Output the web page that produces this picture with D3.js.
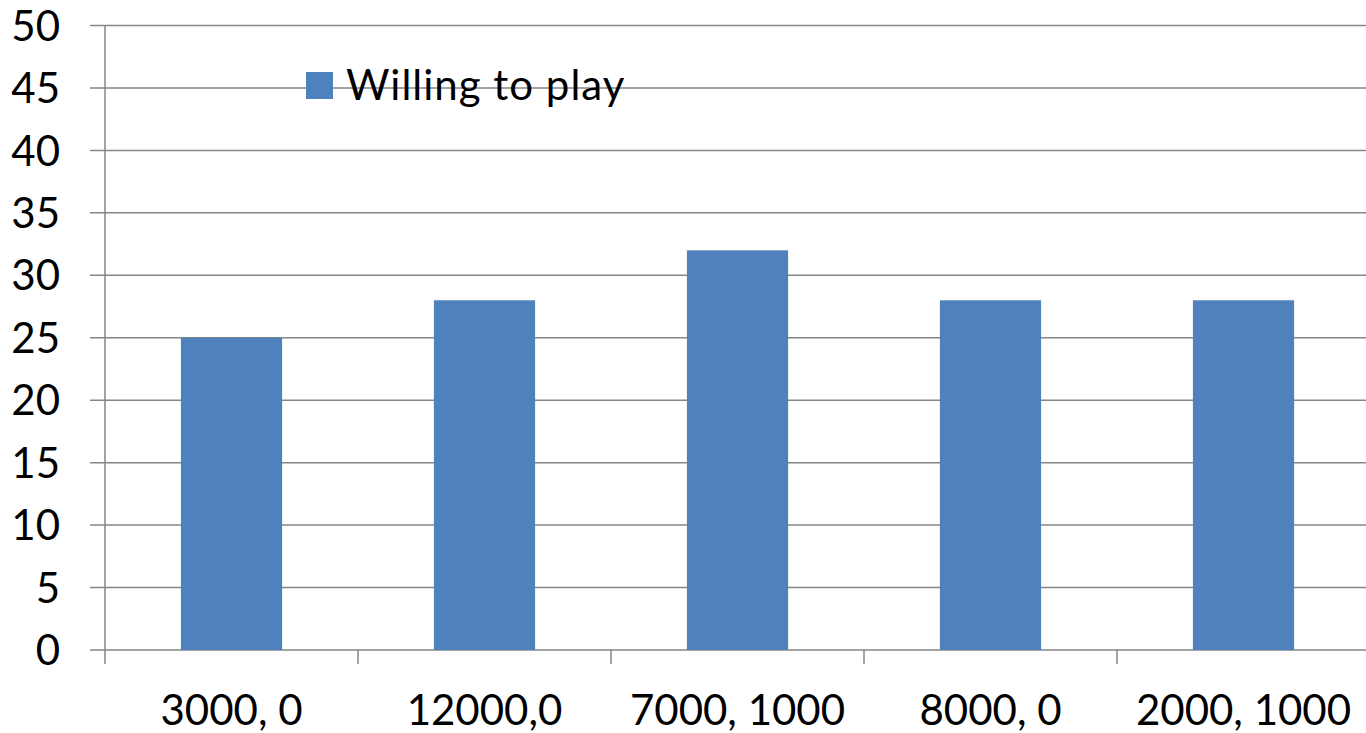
<!DOCTYPE html>
<html>
<head>
<meta charset="utf-8">
<script src="https://cdn.jsdelivr.net/npm/d3@7"></script>
<style>
  html, body { margin: 0; padding: 0; background: #fff; }
  svg { display: block; }
  text { font-family: Lato, "Liberation Sans", sans-serif; fill: #000; }
</style>
</head>
<body>
<svg id="chart" width="1366" height="733"></svg>
<script>
const categories = ["3000, 0", "12000,0", "7000, 1000", "8000, 0", "2000, 1000"];
const willingToPlay = [25, 28, 32, 28, 28];
const yTicks = [0, 5, 10, 15, 20, 25, 30, 35, 40, 45, 50];
const seriesName = "Willing to play";

const W = 1366, H = 733;
const plotLeft = 105, plotRight = 1370, plotTop = 25.5, plotBottom = 650;
const gridColor = "#868686";
const barColor = "#4F81BD";
const fontSize = 42;

const svg = d3.select("#chart");

const x = d3.scaleBand().domain(categories).range([plotLeft, plotRight]).paddingInner(0).paddingOuter(0);
const y = d3.scaleLinear().domain([0, 50]).range([plotBottom, plotTop]);

// horizontal gridlines with short ticks left of the axis
svg.append("g")
  .selectAll("line")
  .data(yTicks)
  .join("line")
  .attr("x1", plotLeft - 15)
  .attr("x2", W)
  .attr("y1", d => y(d))
  .attr("y2", d => y(d))
  .attr("stroke", gridColor)
  .attr("stroke-width", 1.5);

// bars
const barW = x.bandwidth() * 0.4;
svg.append("g")
  .selectAll("rect")
  .data(categories.map((c, i) => ({ c, v: willingToPlay[i] })))
  .join("rect")
  .attr("x", d => x(d.c) + (x.bandwidth() - barW) / 2)
  .attr("y", d => y(d.v))
  .attr("width", barW)
  .attr("height", d => y(0) - y(d.v))
  .attr("fill", barColor);

// vertical axis line
svg.append("line")
  .attr("x1", plotLeft).attr("x2", plotLeft)
  .attr("y1", y(50)).attr("y2", plotBottom + 14)
  .attr("stroke", gridColor).attr("stroke-width", 1.5);

// category boundary ticks
svg.append("g")
  .selectAll("line")
  .data(categories.slice(1))
  .join("line")
  .attr("x1", d => x(d)).attr("x2", d => x(d))
  .attr("y1", plotBottom).attr("y2", plotBottom + 14)
  .attr("stroke", gridColor).attr("stroke-width", 1.5);

// y tick labels
svg.append("g")
  .selectAll("text")
  .data(yTicks)
  .join("text")
  .attr("x", 60)
  .attr("y", d => y(d))
  .attr("dy", "0.36em")
  .attr("text-anchor", "end")
  .attr("font-size", fontSize)
  .text(d => d);

// category labels
svg.append("g")
  .selectAll("text")
  .data(categories)
  .join("text")
  .attr("x", d => x(d) + x.bandwidth() / 2)
  .attr("y", 725)
  .attr("text-anchor", "middle")
  .attr("font-size", fontSize)
  .text(d => d);

// legend
const legend = svg.append("g");
legend.append("rect")
  .attr("x", 306).attr("y", 72)
  .attr("width", 27).attr("height", 27)
  .attr("fill", barColor);
legend.append("text")
  .attr("x", 346).attr("y", 100)
  .attr("font-size", fontSize)
  .attr("letter-spacing", 1)
  .text(seriesName);
</script>
</body>
</html>
